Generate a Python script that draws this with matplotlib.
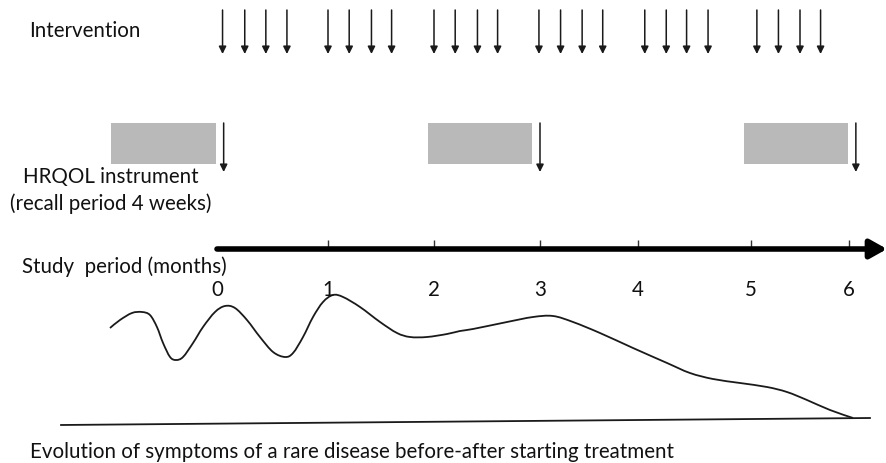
import numpy as np
import matplotlib
matplotlib.use("Agg")
import matplotlib.pyplot as plt
from matplotlib.path import Path
from matplotlib.patches import PathPatch

plt.rcParams['font.family'] = ['Lato', 'DejaVu Sans']
fs = 14.8

# study months (tick labels)
tick_months = [0, 1, 2, 3, 4, 5, 6]
tick_labels = ['0', '1', '2', '3', '4', '5', '6']

# weekly intervention doses, in months
intervention_months = [0.05, 0.25, 0.44, 0.63,
                       1.00, 1.20, 1.41, 1.60,
                       2.00, 2.20, 2.41, 2.60,
                       2.99, 3.21, 3.43, 3.64,
                       4.06, 4.25, 4.43, 4.62,
                       5.06, 5.28, 5.50, 5.71]

# HRQOL measurement times and recall windows (months)
hrqol_months = [0.06, 3.00, 6.07]
recall_start = [-0.955, 1.943, 4.938]
recall_end = [-0.01, 2.925, 5.99]

# symptom evolution (month, level)
symptom_months = [-0.964, -0.874, -0.766, -0.676, -0.604, -0.541, -0.486, -0.423,
                  -0.369, -0.306, -0.216, -0.126, -0.018, 0.072, 0.162, 0.270,
                  0.387, 0.505, 0.613, 0.685, 0.775, 0.865, 0.955, 1.047,
                  1.142, 1.302, 1.491, 1.651, 1.774, 1.934, 2.123, 2.245,
                  2.368, 2.689, 2.934, 3.133, 3.337, 3.612, 3.949, 4.257,
                  4.460, 4.664, 4.903, 5.163, 5.367, 5.571, 5.806, 6.041]
symptom_level = [135, 143, 150, 151, 148, 136, 120, 106,
                 103, 106, 120, 136, 151, 157, 155, 143,
                 126, 111, 106, 110, 126, 146, 161, 168,
                 166, 156, 141, 130, 126, 126, 129, 132,
                 134, 141, 146, 147, 141, 130, 115, 100,
                 90, 84, 80, 76, 71, 63, 53, 45]
baseline_months = [-1.405, 6.214]
baseline_level = [38, 45]

# the months on the drawing are not evenly spaced
knots_m = np.array([-3, 0, 1, 2, 3, 4, 5, 6, 8], dtype=float)
knots_p = np.array([-116, 217, 328, 434, 540, 638, 751, 849, 1045], dtype=float)


def fwd(m):
    return np.interp(m, knots_m, knots_p)


def inv(p):
    return np.interp(p, knots_p, knots_m)


def smooth_path(pts):
    # catmull-rom through the points, drawn as bezier segments
    pts = np.asarray(pts, dtype=float)
    verts = [pts[0]]
    codes = [Path.MOVETO]
    for i in range(len(pts) - 1):
        p0 = pts[max(i - 1, 0)]
        p1 = pts[i]
        p2 = pts[i + 1]
        p3 = pts[min(i + 2, len(pts) - 1)]
        verts += [p1 + (p2 - p0) / 6, p2 - (p3 - p1) / 6, p2]
        codes += [Path.CURVE4] * 3
    return Path(verts, codes)


fig = plt.figure(figsize=(8.87, 4.63), dpi=100)
ax = fig.add_axes([0, 0, 1, 1])
ax.set_xscale('function', functions=(fwd, inv))
ax.set_xlim(inv(0), inv(887))
ax.set_ylim(0, 463)
ax.axis('off')

ink = '#1a1a1a'
txt = '#111111'

# interventions
for m in intervention_months:
    ax.annotate('', xy=(m, 409), xytext=(m, 453),
                arrowprops=dict(arrowstyle='-|>', color=ink, lw=1.1,
                                mutation_scale=11, shrinkA=0, shrinkB=0))
ax.text(inv(29), 432, 'Intervention', fontsize=fs, va='center', ha='left', color=txt)

# HRQOL recall windows + measurement
ax.barh(y=319.5, width=np.array(recall_end) - np.array(recall_start),
        left=recall_start, height=41, color='#b9b9b9')
for m in hrqol_months:
    ax.annotate('', xy=(m, 291), xytext=(m, 340),
                arrowprops=dict(arrowstyle='-|>', color=ink, lw=1.1,
                                mutation_scale=11, shrinkA=0, shrinkB=0))
ax.text(inv(111), 286, 'HRQOL instrument', fontsize=fs, va='center', ha='center', color=txt)
ax.text(inv(111), 259, '(recall period 4 weeks)', fontsize=fs, va='center', ha='center', color=txt)

# study period axis
ax.annotate('', xy=(inv(887), 214), xytext=(0, 214),
            arrowprops=dict(arrowstyle='-|>,head_length=0.5,head_width=0.28',
                            color='black', lw=4, mutation_scale=20,
                            shrinkA=0, shrinkB=0))
ax.vlines(tick_months[1:], 214, 223, color='#333333', lw=1)
for m, lab in zip(tick_months, tick_labels):
    ax.text(m, 173, lab, fontsize=fs, ha='center', va='center', color=txt)
ax.text(inv(22), 196, 'Study  period (months)', fontsize=fs, va='center', ha='left', color=txt)

# symptoms: smooth the read points in display space so the bends stay round
disp = ax.transData.transform(np.column_stack([symptom_months, symptom_level]))
ax.add_patch(PathPatch(smooth_path(disp), transform=None, fill=False,
                       edgecolor=ink, lw=1.3))
ax.plot(baseline_months, baseline_level, color=ink, lw=1.3)
ax.text(inv(30), 11, 'Evolution of symptoms of a rare disease before-after starting treatment',
        fontsize=fs, va='center', ha='left', color=txt)

fig.savefig('out.png', dpi=100, facecolor='white')
